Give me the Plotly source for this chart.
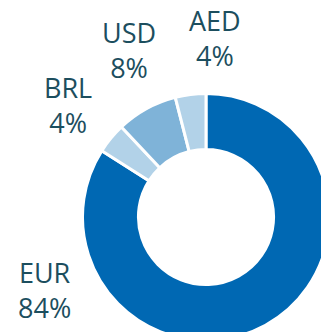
import plotly.graph_objects as go

# Currency split of the portfolio (percent)
currencies = ["EUR", "BRL", "USD", "AED"]
shares = [84, 4, 8, 4]
slice_colors = ["#0068B3", "#B2D2E8", "#7FB3D8", "#B2D2E8"]

# Label anchor points (pixels from top-left of the canvas)
label_x = [44, 67.5, 129, 214.5]
label_y = [290, 104.5, 50, 38]

W, H = 340, 350
cx, cy, R = 206, 217, 123.5

fig = go.Figure(
    go.Pie(
        labels=currencies,
        values=shares,
        sort=False,
        direction="clockwise",
        rotation=0,
        hole=0.547,
        marker=dict(colors=slice_colors, line=dict(color="white", width=3)),
        textinfo="none",
        hoverinfo="label+percent",
        showlegend=False,
        domain=dict(
            x=[(cx - R) / W, (cx + R) / W],
            y=[1 - (cy + R) / H, 1 - (cy - R) / H],
        ),
    )
)

for name, val, lx, ly in zip(currencies, shares, label_x, label_y):
    fig.add_annotation(
        x=lx / W,
        y=1 - ly / H,
        xref="paper",
        yref="paper",
        text=f"{name}<br>{val}%",
        showarrow=False,
        xanchor="center",
        yanchor="middle",
        align="center",
        font=dict(family="Open Sans", size=27, color="#1C4E5E"),
    )

fig.update_layout(
    width=W,
    height=H,
    margin=dict(l=0, r=0, t=0, b=0),
    paper_bgcolor="white",
    plot_bgcolor="white",
)

fig.write_html(
    "out.html",
    config={"displayModeBar": False},
    post_script="document.documentElement.style.overflow='hidden';document.body.style.overflow='hidden';document.body.style.margin='0';",
)
